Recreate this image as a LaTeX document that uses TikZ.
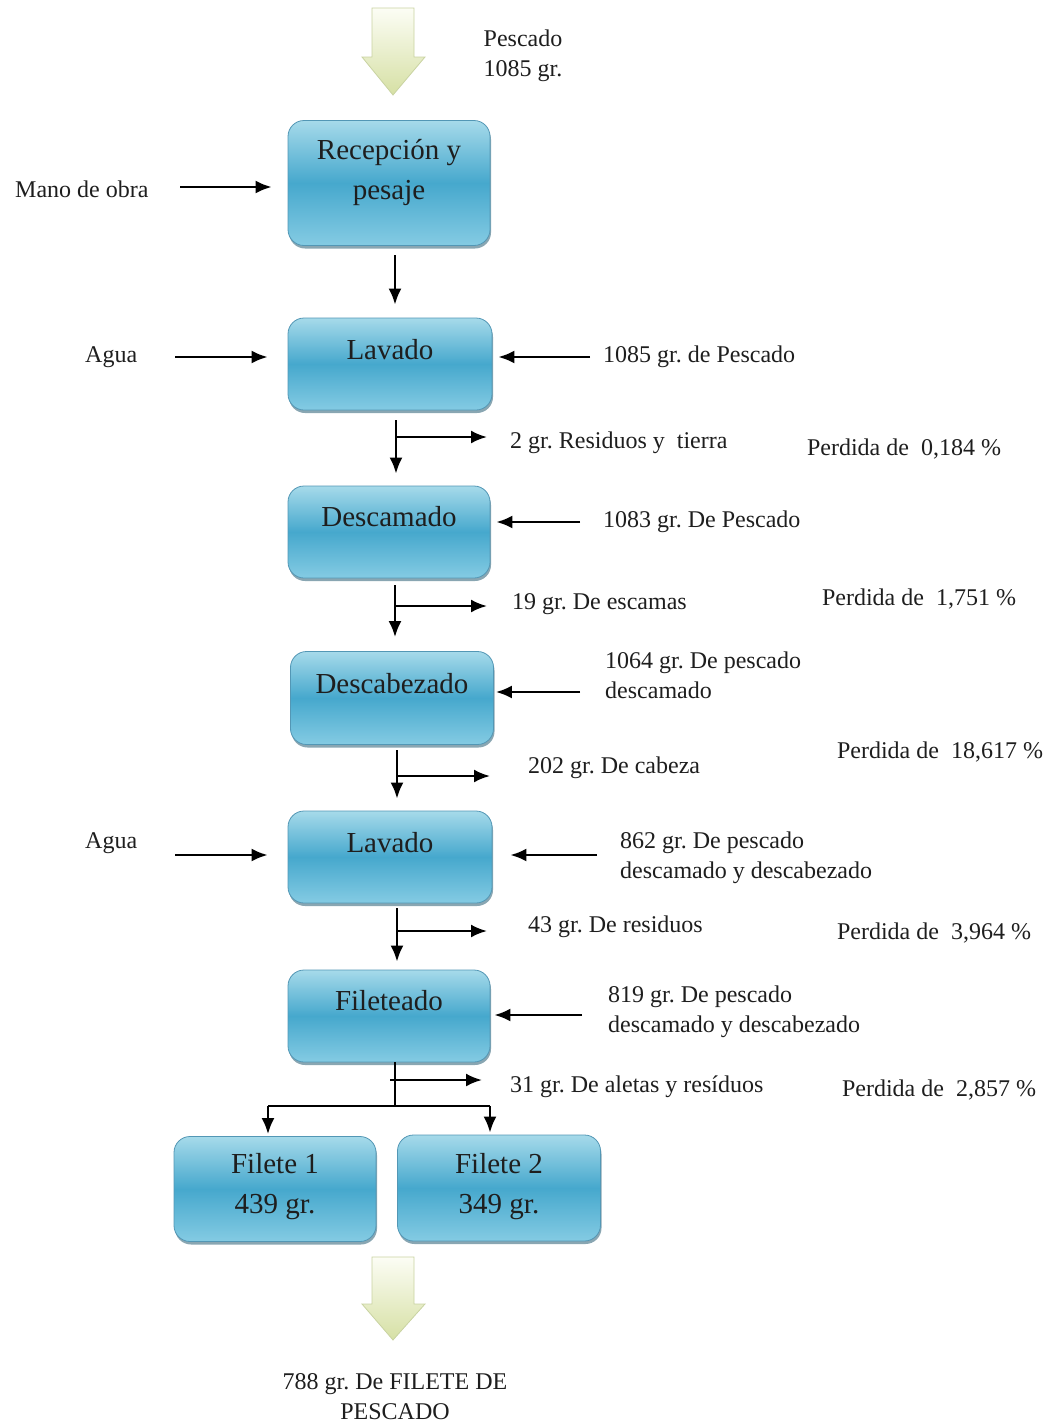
\documentclass[tikz,border=0pt]{standalone}
\usepackage{fontspec}
\setmainfont{Liberation Serif}
\usetikzlibrary{arrows.meta,shadows}
\definecolor{boxtop}{HTML}{A6DAEA}
\definecolor{boxmid}{HTML}{46A8CD}
\definecolor{boxbot}{HTML}{84CBE3}
\definecolor{boxline}{HTML}{5397B5}
\definecolor{arrtop}{HTML}{FCFDF5}
\definecolor{arrbot}{HTML}{D6E0A4}
\definecolor{arrline}{HTML}{C9D3A2}
\definecolor{inkc}{HTML}{1E1E1E}
\frenchspacing
\begin{document}
\begin{tikzpicture}[x=1pt,y=-1pt,
  procbox/.style={draw=boxline, line width=0.8pt, rounded corners=16pt,
    top color=boxtop, bottom color=boxbot, middle color=boxmid,
    drop shadow={shadow xshift=1pt, shadow yshift=-3pt, fill=boxline!70!black, opacity=0.6},
    minimum width=#1, inner sep=0pt},
  boxtxt/.style={font=\fontsize{29}{40}\selectfont, text=inkc, align=center, inner sep=0pt},
  sidetxt/.style={font=\fontsize{24}{30}\selectfont, text=inkc, align=left, inner sep=0pt, anchor=west},
  freetxt/.style={font=\fontsize{24}{30}\selectfont, text=inkc, align=center, inner sep=0pt},
  flow/.style={draw=black, line width=2.4pt, -{Latex[length=16pt,width=13pt]}},
  plain/.style={draw=black, line width=2.4pt},
  bigarrow/.style={draw=arrline, line width=0.8pt, top color=arrtop, bottom color=arrbot}
]
\useasboundingbox (0,0) rectangle (1055,1424);

% big input arrow
\path[bigarrow] (372,8) -- (414,8) -- (414,57) -- (425,57) -- (393,95) -- (362,57) -- (372,57) -- cycle;
\node[freetxt] (pesc) at (523,56) {Pescado\\1085 gr.};

% boxes
\node[procbox=202pt, minimum height=125pt] (rec) at (389,183) {};
\node[boxtxt] (rect) at (389,173) {Recepción y\\pesaje};
\node[procbox=204pt, minimum height=92pt] (lav1) at (390,364) {};
\node[boxtxt] (lav1t) at (390,350) {Lavado};
\node[procbox=202pt, minimum height=92pt] (desc) at (389,532) {};
\node[boxtxt] (desct) at (389,517) {Descamado};
\node[procbox=203pt, minimum height=93pt] (desb) at (392,698) {};
\node[boxtxt] (desbt) at (392,684) {Descabezado};
\node[procbox=204pt, minimum height=92pt] (lav2) at (390,857) {};
\node[boxtxt] (lav2t) at (390,843) {Lavado};
\node[procbox=202pt, minimum height=92pt] (fil) at (389,1016) {};
\node[boxtxt] (filt) at (389,1001) {Fileteado};
\node[procbox=202pt, minimum height=105pt] (f1) at (275,1189) {};
\node[boxtxt] (f1t) at (275,1187) {Filete 1\\439 gr.};
\node[procbox=203pt, minimum height=106pt] (f2) at (499,1188) {};
\node[boxtxt] (f2t) at (499,1187) {Filete 2\\349 gr.};

% left inputs
\node[sidetxt] (mano) at (15,189) {Mano de obra};
\node[sidetxt] (agua1) at (85,357) {Agua};
\node[sidetxt] (agua2) at (85,843) {Agua};
\coordinate (mano0) at (180,187);
\coordinate (agua10) at (175,357);
\coordinate (agua20) at (175,855);
\draw[flow, shorten >=16pt] (mano0) -- (mano0 -| rec.west);
\draw[flow, shorten >=20pt] (agua10) -- (agua10 -| lav1.west);
\draw[flow, shorten >=20pt] (agua20) -- (agua20 -| lav2.west);

% right inputs
\node[sidetxt] (in1) at (603,357) {1085 gr. de Pescado};
\node[sidetxt] (in2) at (603,522) {1083 gr. De Pescado};
\node[sidetxt] (in3) at (605,675) {1064 gr. De pescado\\descamado};
\node[sidetxt] (in4) at (620,858) {862 gr. De pescado\\descamado y descabezado};
\node[sidetxt] (in5) at (608,1012) {819 gr. De pescado\\descamado y descabezado};
\coordinate (in10) at (590,357);
\coordinate (in20) at (580,522);
\coordinate (in30) at (580,692);
\coordinate (in40) at (597,855);
\coordinate (in50) at (582,1015);
\draw[flow, shorten >=6pt] (in10) -- (in10 -| lav1.east);
\draw[flow, shorten >=6pt] (in20) -- (in20 -| desc.east);
\draw[flow, shorten >=2pt] (in30) -- (in30 -| desb.east);
\draw[flow, shorten >=18pt] (in40) -- (in40 -| lav2.east);
\draw[flow, shorten >=4pt] (in50) -- (in50 -| fil.east);

% vertical flow
\coordinate (v1) at (395,255);
\draw[flow, shorten >=13pt] (v1) -- (v1 |- lav1.north);
\coordinate (v2) at (396,420);
\draw[flow, shorten >=12pt] (v2) -- (v2 |- desc.north);
\coordinate (v3) at (395,585);
\draw[flow, shorten >=14pt] (v3) -- (v3 |- desb.north);
\coordinate (v4) at (397,750);
\draw[flow, shorten >=12pt] (v4) -- (v4 |- lav2.north);
\coordinate (v5) at (397,908);
\draw[flow, shorten >=8pt] (v5) -- (v5 |- fil.north);

% losses
\node[sidetxt] (l1) at (510,443) {2 gr. Residuos y\ \ tierra};
\node[sidetxt] (l2) at (512,604) {19 gr. De escamas};
\node[sidetxt] (l3) at (528,768) {202 gr. De cabeza};
\node[sidetxt] (l4) at (528,927) {43 gr. De residuos};
\node[sidetxt] (l5) at (510,1087) {31 gr. De aletas y resíduos};
\coordinate (b1) at (396,437);
\coordinate (b2) at (395,606);
\coordinate (b3) at (397,776);
\coordinate (b4) at (397,931);
\coordinate (b5) at (390,1080);
\draw[flow, shorten >=23pt] (b1) -- (b1 -| l1.west);
\draw[flow, shorten >=25pt] (b2) -- (b2 -| l2.west);
\draw[flow, shorten >=38pt] (b3) -- (b3 -| l3.west);
\draw[flow, shorten >=41pt] (b4) -- (b4 -| l4.west);
\draw[flow, shorten >=28pt] (b5) -- (b5 -| l5.west);

\node[freetxt] (p1) at (904,449) {Perdida de\ \ 0,184 \%};
\node[freetxt] (p2) at (919,599) {Perdida de\ \ 1,751 \%};
\node[freetxt] (p3) at (940,752) {Perdida de\ \ 18,617 \%};
\node[freetxt] (p4) at (934,933) {Perdida de\ \ 3,964 \%};
\node[freetxt] (p5) at (939,1090) {Perdida de\ \ 2,857 \%};

% split to fillets
\coordinate (s0) at (395,1062);
\coordinate (s1) at (395,1106);
\coordinate (sl) at (268,1106);
\coordinate (sr) at (490,1106);
\draw[plain] (s0) -- (s1);
\draw[plain] (sl) -- (sr);
\draw[flow, shorten >=2pt] (sl) -- (sl |- f1.north);
\draw[flow, shorten >=2pt] (sr) -- (sr |- f2.north);

% big output arrow
\path[bigarrow] (372,1257) -- (414,1257) -- (414,1304) -- (425,1304) -- (393,1340) -- (362,1304) -- (372,1304) -- cycle;
\node[freetxt] (final) at (395,1397) {788 gr. De FILETE DE\\PESCADO};
\end{tikzpicture}
\end{document}
